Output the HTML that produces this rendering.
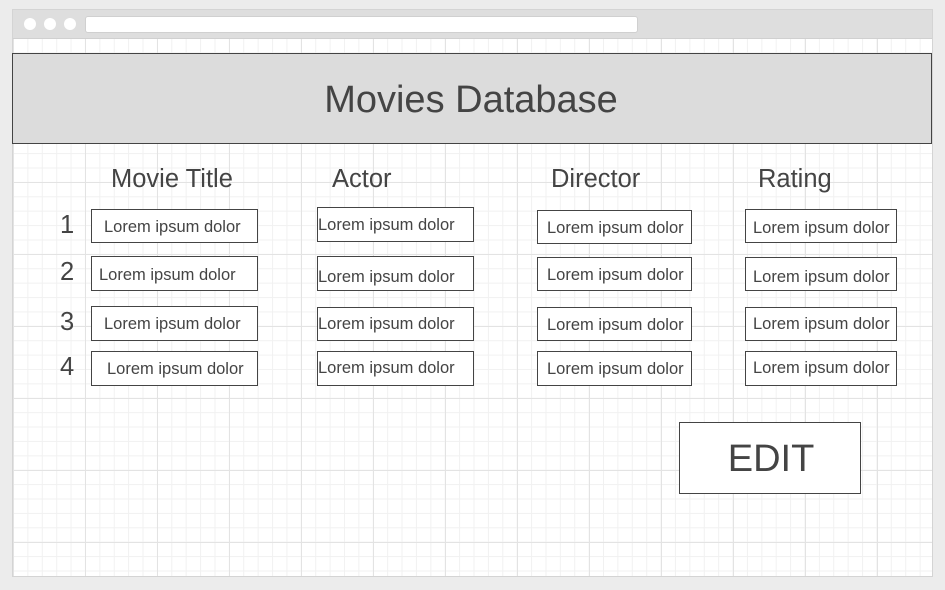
<!DOCTYPE html>
<html><head><style>
body{margin:0;width:945px;height:590px;background:#ececec;position:relative;overflow:hidden;font-family:"Liberation Sans",sans-serif;color:#444}
.a{position:absolute}
.win{left:12px;top:9px;width:921px;height:568px;border:1px solid #d4d4d4;background:#fff;box-sizing:border-box}
.bar{left:13px;top:10px;width:919px;height:28px;background:#dedede;border-bottom:1px solid #d0d0d0}
.dot{width:12px;height:12px;border-radius:50%;background:#fff;top:18px}
.grid{left:13px;top:39px;width:919px;height:537px;
background-image:linear-gradient(#e3e3e3 1px,transparent 1px),linear-gradient(90deg,#e3e3e3 1px,transparent 1px),linear-gradient(#f1f1f1 1px,transparent 1px),linear-gradient(90deg,#f1f1f1 1px,transparent 1px);
background-size:72px 72px,72px 72px,14.4px 14.4px,14.4px 14.4px;background-position:0 -1px,0 0,0 -1px,0 0}
.box{border:1px solid #444;background:#fff;box-sizing:border-box}
.t{font-size:16.5px;line-height:18px;white-space:nowrap}
.h{font-size:25.5px;line-height:30px;white-space:nowrap}
</style></head><body>
<div class="a win"></div>
<div class="a bar"></div>
<div class="a dot" style="left:24px"></div>
<div class="a dot" style="left:44px"></div>
<div class="a dot" style="left:64px"></div>
<div class="a" style="left:85px;top:16px;width:553px;height:17px;background:#fff;border-radius:3px;border:1px solid #d0d0d0;box-sizing:border-box"></div>
<div class="a grid"></div>
<div class="a" style="left:12px;top:53px;width:920px;height:91px;background:#dcdcdc;border:1px solid #444;box-sizing:border-box"></div>
<div class="a" style="left:11px;top:77px;width:920px;text-align:center;font-size:38px;line-height:46px">Movies Database</div>

<div class="a h" style="left:111px;top:164px">Movie Title</div>
<div class="a h" style="left:332px;top:164px">Actor</div>
<div class="a h" style="left:551px;top:164px">Director</div>
<div class="a h" style="left:758px;top:164px">Rating</div>

<div class="a h" style="left:60px;top:210px">1</div>
<div class="a h" style="left:60px;top:257px">2</div>
<div class="a h" style="left:60px;top:307px">3</div>
<div class="a h" style="left:60px;top:352px">4</div>

<div class="a box" style="left:91px;top:209px;width:167px;height:34px"></div>
<div class="a box" style="left:91px;top:256px;width:167px;height:35px"></div>
<div class="a box" style="left:91px;top:306px;width:167px;height:35px"></div>
<div class="a box" style="left:91px;top:351px;width:167px;height:35px"></div>
<div class="a t" style="left:104px;top:218px">Lorem ipsum dolor</div>
<div class="a t" style="left:99px;top:266px">Lorem ipsum dolor</div>
<div class="a t" style="left:104px;top:315px">Lorem ipsum dolor</div>
<div class="a t" style="left:107px;top:360px">Lorem ipsum dolor</div>

<div class="a box" style="left:317px;top:207px;width:157px;height:35px"></div>
<div class="a box" style="left:317px;top:256px;width:157px;height:35px"></div>
<div class="a box" style="left:317px;top:307px;width:157px;height:34px"></div>
<div class="a box" style="left:317px;top:351px;width:157px;height:35px"></div>
<div class="a t" style="left:318px;top:216px">Lorem ipsum dolor</div>
<div class="a t" style="left:318px;top:268px">Lorem ipsum dolor</div>
<div class="a t" style="left:318px;top:315px">Lorem ipsum dolor</div>
<div class="a t" style="left:318px;top:359px">Lorem ipsum dolor</div>

<div class="a box" style="left:537px;top:210px;width:155px;height:34px"></div>
<div class="a box" style="left:537px;top:257px;width:155px;height:34px"></div>
<div class="a box" style="left:537px;top:307px;width:155px;height:34px"></div>
<div class="a box" style="left:537px;top:351px;width:155px;height:35px"></div>
<div class="a t" style="left:547px;top:219px">Lorem ipsum dolor</div>
<div class="a t" style="left:547px;top:266px">Lorem ipsum dolor</div>
<div class="a t" style="left:547px;top:316px">Lorem ipsum dolor</div>
<div class="a t" style="left:547px;top:360px">Lorem ipsum dolor</div>

<div class="a box" style="left:745px;top:209px;width:152px;height:34px"></div>
<div class="a box" style="left:745px;top:257px;width:152px;height:34px"></div>
<div class="a box" style="left:745px;top:307px;width:152px;height:34px"></div>
<div class="a box" style="left:745px;top:351px;width:152px;height:35px"></div>
<div class="a t" style="left:753px;top:219px">Lorem ipsum dolor</div>
<div class="a t" style="left:753px;top:268px">Lorem ipsum dolor</div>
<div class="a t" style="left:753px;top:315px">Lorem ipsum dolor</div>
<div class="a t" style="left:753px;top:359px">Lorem ipsum dolor</div>

<div class="a box" style="left:679px;top:422px;width:182px;height:72px"></div>
<div class="a" style="left:680px;top:436px;width:182px;text-align:center;font-size:38px;line-height:46px">EDIT</div>
</body></html>
